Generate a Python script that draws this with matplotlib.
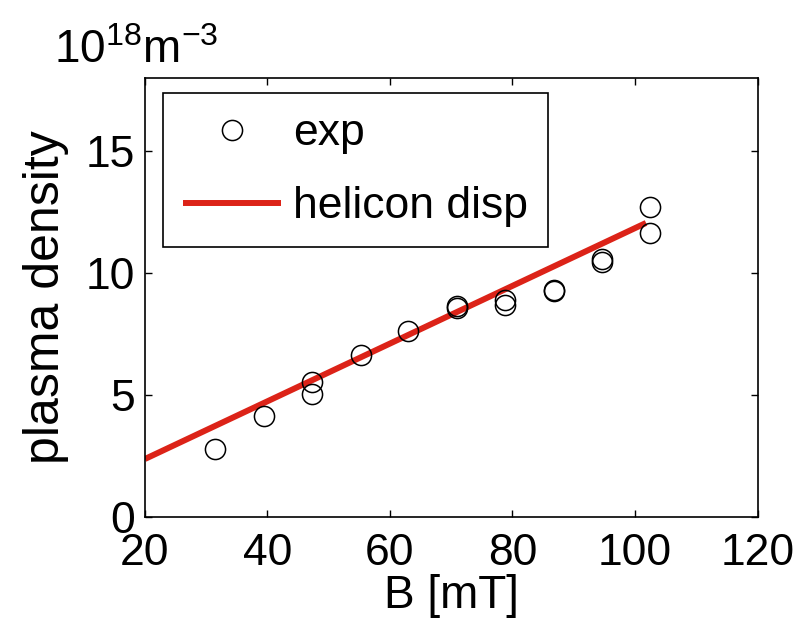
import matplotlib
matplotlib.use("Agg")
import matplotlib.pyplot as plt

# ─── DATA ───────────────────────────────────────────────────────────────────
b_exp = [31.4, 39.4, 47.3, 47.3, 55.2, 63.0, 71.0, 71.0, 78.8, 78.8,
         86.7, 86.7, 94.6, 94.6, 102.4, 102.4]
n_exp = [2.78, 4.15, 5.51, 5.04, 6.62, 7.63, 8.63, 8.57, 8.91, 8.70,
         9.32, 9.27, 10.59, 10.44, 12.72, 11.65]

b_disp = [20.0, 101.8]
n_disp = [2.37, 12.06]

x_ticks = [20, 40, 60, 80, 100, 120]
y_ticks = [0, 5, 10, 15]

# ─── STYLE ──────────────────────────────────────────────────────────────────
plt.rcParams["font.family"] = ["Liberation Sans", "DejaVu Sans"]
plt.rcParams["mathtext.default"] = "regular"
FS = 32

fig = plt.figure(figsize=(8.01, 6.26), dpi=100)
ax = fig.add_axes([0.181, 0.1746, 0.7647, 0.7004])

ax.plot(b_disp, n_disp, color="#dc2318", linewidth=4.3, solid_capstyle="butt",
        label="helicon disp", zorder=2)
ax.plot(b_exp, n_exp, linestyle="none", marker="o", markersize=14.5,
        markerfacecolor="none", markeredgecolor="black", markeredgewidth=1.1,
        label="exp", zorder=3)

ax.set_xlim(20, 120)
ax.set_ylim(0, 18)
ax.set_xticks(x_ticks)
ax.set_yticks(y_ticks)
ax.tick_params(direction="in", length=5, width=1, labelsize=FS,
               top=True, right=True)
ax.tick_params(axis="x", pad=12)
ax.tick_params(axis="y", pad=7)
for s in ax.spines.values():
    s.set_linewidth(1.2)

ax.set_xlabel("B [mT]", fontsize=33, labelpad=0)
ax.set_ylabel("plasma density", fontsize=36, labelpad=12)

handles, labels = ax.get_legend_handles_labels()
leg = ax.legend(handles[::-1], labels[::-1], loc="upper left",
                bbox_to_anchor=(0.03, 0.966), borderaxespad=0,
                fontsize=FS, frameon=True, fancybox=False, framealpha=1,
                edgecolor="black", handlelength=2.2, handletextpad=0.27,
                labelspacing=0.72, borderpad=0.45)
leg.get_frame().set_linewidth(1.2)

fig.text(0.068, 0.9, r"10$^{18}$m$^{-3}$", fontsize=33, ha="left", va="baseline")

fig.savefig("out.png", dpi=100)
